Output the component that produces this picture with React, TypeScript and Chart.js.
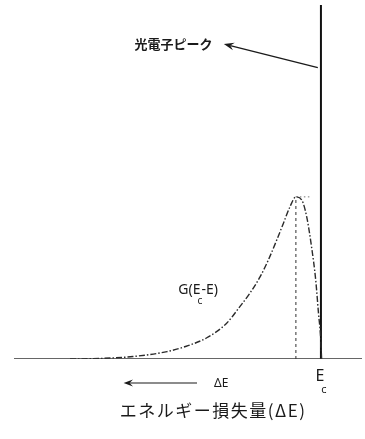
import React, { useEffect, useRef } from "react";
import { Chart, registerables } from "chart.js";

Chart.register(...registerables);

// Energy axis in relative units (0 = far loss side, 100 = right edge); intensity in relative units.
const edgeEnergy = 88.2; // E_c, photoelectron peak position
const peakEnergy = 81.0; // maximum of the loss function G(E_c - E)
const peakIntensity = 45.8;
const photoPeakHeight = 100;

const lossEnergy = [16.1, 24.7, 34.2, 44.0, 49.5, 55.4, 61.1, 64.9, 67.8, 70.7, 73.1, 75.5, 77.4, 79.3, 81.0, 82.7, 84.1, 85.5, 86.7, 87.5, 88.1, 88.4];
const lossIntensity = [0.0, 0.15, 0.7, 2.1, 3.6, 6.0, 10.1, 14.8, 18.6, 23.2, 28.0, 33.6, 38.3, 43.0, 45.8, 44.9, 40.2, 31.7, 22.3, 12.9, 6.3, 0.0];

const axisMin = 0;
const axisMax = 100;

const photoPeakLabel = "光電子ピーク";
const lossLabel = "G(E";
const lossLabelSub = "c";
const lossLabelTail = "-E)";
const deltaLabel = "ΔE";
const edgeLabel = "E";
const edgeLabelSub = "c";
const xTitle = "エネルギー損失量(ΔE)";

const ink = "#1a1a1a";

function arrow(ctx: CanvasRenderingContext2D, x1: number, y1: number, x2: number, y2: number, head: number) {
  // line from (x1,y1) to (x2,y2) with a filled head at (x2,y2)
  const a = Math.atan2(y2 - y1, x2 - x1);
  ctx.beginPath();
  ctx.moveTo(x1, y1);
  ctx.lineTo(x2 - Math.cos(a) * head * 0.6, y2 - Math.sin(a) * head * 0.6);
  ctx.stroke();
  ctx.beginPath();
  ctx.moveTo(x2, y2);
  ctx.lineTo(x2 - Math.cos(a - 0.35) * head, y2 - Math.sin(a - 0.35) * head);
  ctx.lineTo(x2 - Math.cos(a) * head * 0.6, y2 - Math.sin(a) * head * 0.6);
  ctx.lineTo(x2 - Math.cos(a + 0.35) * head, y2 - Math.sin(a + 0.35) * head);
  ctx.closePath();
  ctx.fill();
}

const annotations = {
  id: "annotations",
  afterDraw(chart: any) {
    const { ctx, scales } = chart;
    const sx = scales.x;
    const sy = scales.y;
    const X = (v: number) => sx.getPixelForValue(v);
    const Y = (v: number) => sy.getPixelForValue(v);
    ctx.save();
    ctx.fillStyle = ink;
    ctx.strokeStyle = ink;
    ctx.textBaseline = "middle";

    // photoelectron peak label with pointer
    ctx.font = "bold 13px 'Noto Sans CJK JP', sans-serif";
    ctx.textAlign = "left";
    ctx.fillText(photoPeakLabel, X(34.6), Y(89.0));
    ctx.lineWidth = 1.4;
    arrow(ctx, X(edgeEnergy - 0.9), Y(82.3), X(60.3), Y(89.0), 11);

    // loss function label G(Ec-E)
    ctx.font = "14px 'Noto Sans', sans-serif";
    let gx = X(47.2);
    const gy = Y(19.5);
    ctx.fillText(lossLabel, gx, gy);
    gx += ctx.measureText(lossLabel).width;
    ctx.font = "10px 'Noto Sans', sans-serif";
    ctx.fillText(lossLabelSub, gx - 3, gy + 11);
    ctx.font = "14px 'Noto Sans', sans-serif";
    ctx.fillText(lossLabelTail, gx + 1, gy);

    // loss direction arrow and label below the axis
    const base = Y(0);
    ctx.lineWidth = 1.2;
    arrow(ctx, X(52.6), base + 24, X(31.5), base + 24, 10);
    ctx.font = "12px 'Noto Sans', sans-serif";
    ctx.fillText(deltaLabel, X(57.5), base + 25);

    // E_c mark under the photoelectron peak
    ctx.font = "16px 'Noto Sans', sans-serif";
    ctx.textAlign = "center";
    ctx.fillText(edgeLabel, X(edgeEnergy) - 1, base + 17);
    ctx.font = "11px 'Noto Sans', sans-serif";
    ctx.fillText(edgeLabelSub, X(edgeEnergy) + 3, base + 31);

    // axis title
    ctx.font = "17px 'Noto Sans CJK JP', serif";
    (ctx as any).letterSpacing = "1.5px";
    ctx.fillText(xTitle, X(57.2), base + 52);
    ctx.restore();
  },
};

export default function App() {
  const ref = useRef<HTMLCanvasElement | null>(null);

  useEffect(() => {
    document.body.style.margin = "0";
    const canvas = ref.current;
    if (!canvas) return;
    const curve = lossEnergy.map((x, i) => ({ x, y: lossIntensity[i] }));
    const chart = new Chart(canvas, {
      type: "line",
      data: {
        datasets: [
          {
            data: [{ x: axisMin, y: 0 }, { x: axisMax, y: 0 }],
            borderColor: "#333",
            borderWidth: 1.3,
            pointRadius: 0,
          },
          {
            data: curve,
            borderColor: "#2a2a2a",
            borderWidth: 1.4,
            borderDash: [6, 2, 1.5, 2],
            pointRadius: 0,
            cubicInterpolationMode: "monotone",
          },
          {
            data: [{ x: peakEnergy, y: 0 }, { x: peakEnergy, y: peakIntensity }],
            borderColor: "#444",
            borderWidth: 1.1,
            borderDash: [3, 3],
            pointRadius: 0,
          },
          {
            data: [{ x: peakEnergy, y: peakIntensity }, { x: 85.3, y: peakIntensity }],
            borderColor: "#777",
            borderWidth: 1,
            borderDash: [1.5, 2.5],
            pointRadius: 0,
          },
          {
            data: [{ x: edgeEnergy, y: 0 }, { x: edgeEnergy, y: photoPeakHeight }],
            borderColor: "#111",
            borderWidth: 2,
            pointRadius: 0,
          },
        ],
      },
      options: {
        animation: false,
        responsive: false,
        maintainAspectRatio: false,
        layout: { padding: { left: 14, right: 3, top: 5, bottom: 80 } },
        plugins: { legend: { display: false }, tooltip: { enabled: false } },
        scales: {
          x: { type: "linear", min: axisMin, max: axisMax, display: false },
          y: { type: "linear", min: 0, max: photoPeakHeight, display: false },
        },
      },
      plugins: [annotations],
    });
    return () => chart.destroy();
  }, []);

  return (
    <div style={{ width: 365, height: 439, background: "#fff" }}>
      <canvas ref={ref} width={365} height={439} />
    </div>
  );
}
